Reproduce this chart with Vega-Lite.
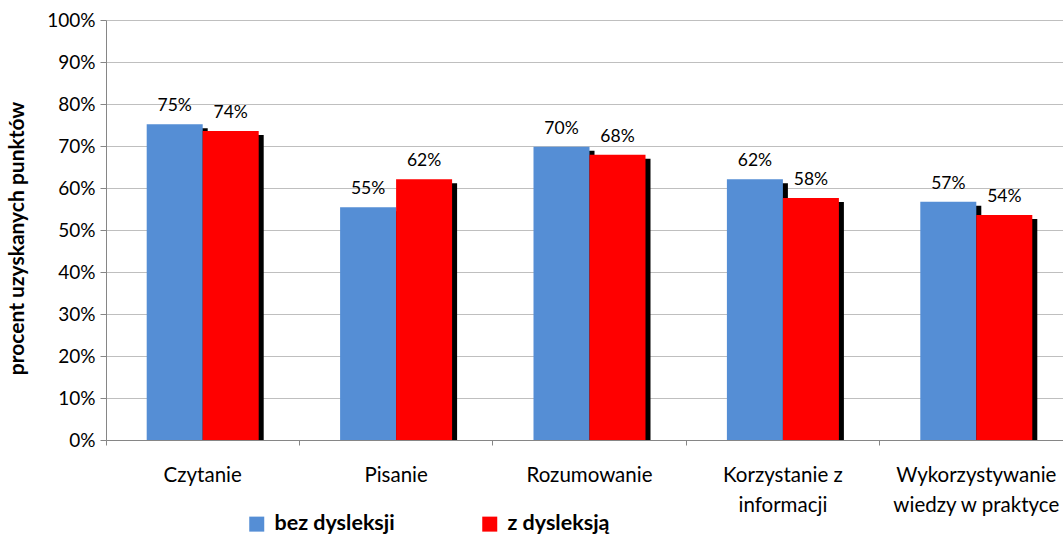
{
  "$schema": "https://vega.github.io/schema/vega-lite/v6.json",
  "width": 967,
  "height": 420,
  "autosize": "none",
  "padding": {"left": 106, "top": 20, "right": 0, "bottom": 96},
  "config": {
    "font": "Lato",
    "view": {"stroke": null},
    "axis": {"labelFont": "Lato", "labelColor": "#000000", "titleFont": "Lato"},
    "legend": {"labelFont": "Lato"}
  },
  "data": {
    "values": [
      {"category": "Czytanie", "series": "bez dysleksji", "value": 0.752},
      {"category": "Czytanie", "series": "z dysleksją", "value": 0.736},
      {"category": "Pisanie", "series": "bez dysleksji", "value": 0.554},
      {"category": "Pisanie", "series": "z dysleksją", "value": 0.621},
      {"category": "Rozumowanie", "series": "bez dysleksji", "value": 0.698},
      {"category": "Rozumowanie", "series": "z dysleksją", "value": 0.679},
      {"category": "Korzystanie z|informacji", "series": "bez dysleksji", "value": 0.621},
      {"category": "Korzystanie z|informacji", "series": "z dysleksją", "value": 0.576},
      {"category": "Wykorzystywanie|wiedzy w praktyce", "series": "bez dysleksji", "value": 0.567},
      {"category": "Wykorzystywanie|wiedzy w praktyce", "series": "z dysleksją", "value": 0.536}
    ]
  },
  "encoding": {
    "x": {
      "field": "category",
      "type": "nominal",
      "sort": null,
      "scale": {"paddingInner": 0, "paddingOuter": 0},
      "axis": {
        "title": null,
        "labelAngle": 0,
        "labelFontSize": 20.5,
        "labelExpr": "split(datum.value, '|')",
        "labelLineHeight": 30,
        "bandPosition": 0,
        "tickSize": 5,
        "labelPadding": 20,
        "labelBound": false,
        "labelOverlap": false,
        "domainColor": "#868686",
        "tickColor": "#868686",
        "grid": false
      }
    },
    "y": {
      "field": "value",
      "type": "quantitative",
      "scale": {"domain": [0, 1], "nice": false},
      "axis": {
        "title": "procent uzyskanych punktów",
        "titleFontWeight": "bold",
        "titleFontSize": 21,
        "titleColor": "#000000",
        "titleX": -89,
        "titleY": 218,
        "titleAngle": -90,
        "titleAlign": "center",
        "titleBaseline": "middle",
        "labelFontSize": 19,
        "format": ".0%",
        "values": [0, 0.1, 0.2, 0.3, 0.4, 0.5, 0.6, 0.7, 0.8, 0.9, 1],
        "tickSize": 6,
        "labelPadding": 5,
        "domainColor": "#868686",
        "tickColor": "#868686",
        "gridColor": "#BFBFBF",
        "gridWidth": 1
      }
    }
  },
  "layer": [
    {
      "transform": [{"filter": "datum.series == 'bez dysleksji'"}],
      "mark": {"type": "bar", "width": 56, "xOffset": -23, "yOffset": 4, "color": "#000000", "clip": true}
    },
    {
      "transform": [{"filter": "datum.series == 'bez dysleksji'"}],
      "mark": {"type": "bar", "width": 56, "xOffset": -28},
      "encoding": {
        "color": {
          "field": "series",
          "type": "nominal",
          "scale": {"domain": ["bez dysleksji", "z dysleksją"], "range": ["#558ED5", "#FF0000"]},
          "legend": {
            "title": null,
            "orient": "none",
            "direction": "horizontal",
            "legendX": 140,
            "legendY": 493,
            "symbolType": "square",
            "symbolSize": 225,
            "symbolStrokeWidth": 0,
            "symbolOpacity": 1,
            "labelFontSize": 21.5,
            "labelFontWeight": "bold",
            "labelColor": "#000000",
            "labelOffset": 7,
            "columnPadding": 84
          }
        }
      }
    },
    {
      "transform": [{"filter": "datum.series == 'z dysleksją'"}],
      "mark": {"type": "bar", "width": 56, "xOffset": 33, "yOffset": 4, "color": "#000000", "clip": true}
    },
    {
      "transform": [{"filter": "datum.series == 'z dysleksją'"}],
      "mark": {"type": "bar", "width": 56, "xOffset": 28},
      "encoding": {"color": {"field": "series", "type": "nominal"}}
    },
    {
      "transform": [{"filter": "datum.series == 'bez dysleksji'"}],
      "mark": {"type": "text", "xOffset": -28, "dy": -18, "fontSize": 17.5, "color": "#000000"},
      "encoding": {"text": {"field": "value", "type": "quantitative", "format": ".0%"}}
    },
    {
      "transform": [{"filter": "datum.series == 'z dysleksją'"}],
      "mark": {"type": "text", "xOffset": 28, "dy": -18, "fontSize": 17.5, "color": "#000000"},
      "encoding": {"text": {"field": "value", "type": "quantitative", "format": ".0%"}}
    }
  ]
}
